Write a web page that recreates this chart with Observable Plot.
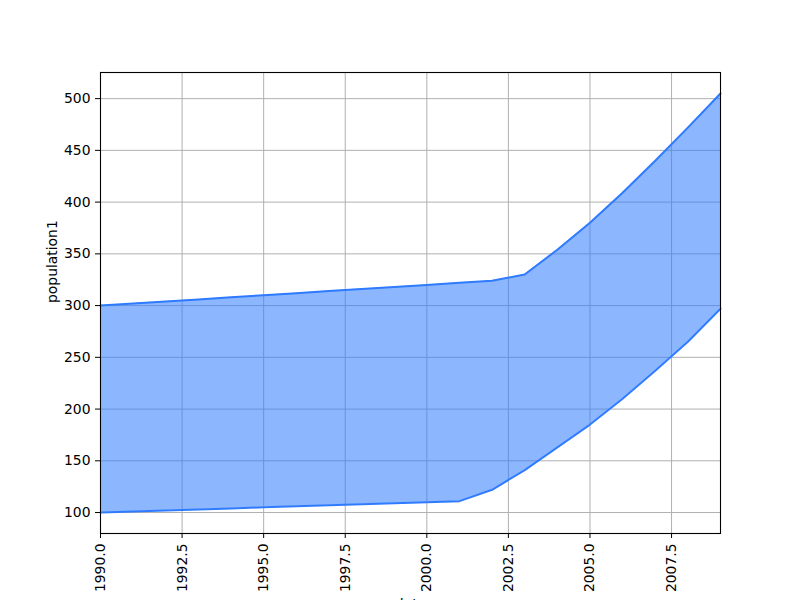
<!DOCTYPE html>
<html>
<head>
<meta charset="utf-8">
<script src="https://cdn.jsdelivr.net/npm/d3@7"></script>
<script src="https://cdn.jsdelivr.net/npm/@observablehq/plot@0.6"></script>
<style>
  html, body { margin: 0; padding: 0; background: #fff; }
  #chart { width: 800px; height: 600px; overflow: hidden; }
</style>
</head>
<body>
<div id="chart"></div>
<script>
const years = [1990,1991,1992,1993,1994,1995,1996,1997,1998,1999,2000,2001,2002,2003,2004,2005,2006,2007,2008,2009];
const population1 = [100,101,102,103,104,105,106,107,108,109,110,111,122,141,163,185,210,237,265,297];
const population2 = [300,302,304,306,308,310,312,314,316,318,320,322,324,330,354,380,409,440,472,505];
const xTicks = [1990,1992.5,1995,1997.5,2000,2002.5,2005,2007.5];
const yTicks = [100,150,200,250,300,350,400,450,500];
const xLabel = "date";
const yLabel = "population1";

const data = years.map((y, i) => ({year: y, low: population1[i], high: population2[i]}));
const blue = "#2e7bff";
const font = "'DejaVu Sans', sans-serif";

const chart = Plot.plot({
  width: 800,
  height: 600,
  marginLeft: 100,
  marginRight: 80,
  marginTop: 72,
  marginBottom: 67,
  style: {fontFamily: font, fontSize: "13.9px", background: "#fff", color: "#000"},
  x: {domain: [1990, 2009]},
  y: {domain: [79.75, 525.25]},
  marks: [
    Plot.gridX({ticks: xTicks, stroke: "#b0b0b0", strokeOpacity: 1, strokeWidth: 1}),
    Plot.gridY({ticks: yTicks, stroke: "#b0b0b0", strokeOpacity: 1, strokeWidth: 1}),
    Plot.areaY(data, {x: "year", y1: "low", y2: "high", fill: blue, fillOpacity: 0.55}),
    Plot.lineY(data, {x: "year", y: "low", stroke: blue, strokeWidth: 2}),
    Plot.lineY(data, {x: "year", y: "high", stroke: blue, strokeWidth: 2}),
    Plot.axisX({ticks: xTicks, tickFormat: d3.format(".1f"), tickRotate: -90, tickSize: 5, tickPadding: 5, label: null}),
    Plot.axisY({ticks: yTicks, tickFormat: d3.format("d"), tickSize: 5, tickPadding: 5, label: null}),
    Plot.text([yLabel], {frameAnchor: "left", dx: -47.5, rotate: -90, text: d => d, fontSize: 13.9, fill: "#000"}),
    Plot.text([xLabel], {frameAnchor: "bottom", dy: 66, lineAnchor: "top", text: d => d, fontSize: 13.9, fill: "#000"}),
    Plot.frame({stroke: "#000", strokeWidth: 1.1})
  ]
});
document.getElementById("chart").appendChild(chart);
</script>
</body>
</html>
